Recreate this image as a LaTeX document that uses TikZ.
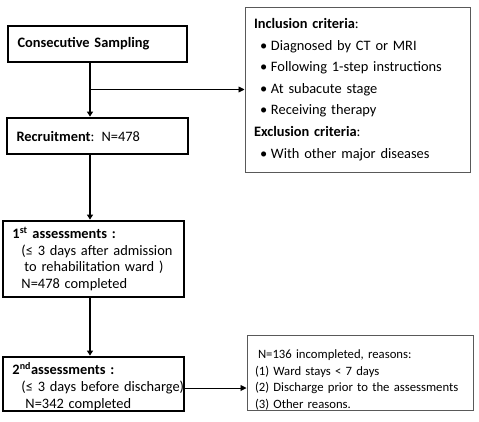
\documentclass[tikz,border=0pt]{standalone}
\usepackage{fontspec}
\setmainfont{Carlito}
\usetikzlibrary{arrows.meta}

\tikzset{
  flowbox/.style={draw, line width=2.8pt, align=left, inner xsep=9.5pt, inner ysep=0pt,
    font=\fontsize{14.4}{16.7}\selectfont},
  notebox/.style={draw=black!65, line width=1pt, align=left, inner xsep=9pt, inner ysep=0pt},
  link/.style={line width=2.8pt, -{Triangle[length=5pt,width=6pt]}},
  branch/.style={line width=0.9pt, -{Triangle[length=6pt,width=6pt]}},
}

\begin{document}
\begin{tikzpicture}[x=1pt,y=-1pt]
    \useasboundingbox (0,0) rectangle (479,421);

    % Boxes of the flow
    \node[flowbox, text width=160pt, minimum height=36pt] (sampling) at (97.5,44)
        {\textbf{Consecutive Sampling}};
    \node[flowbox, text width=162pt, minimum height=36pt] (recruit) at (97.5,136)
        {\textbf{Recruitment}: N=478};
    \node[flowbox, text width=162pt, minimum height=76pt] (first) at (93.5,259)
        {\textbf{1\textsuperscript{st} assessments :}\\
         \mbox{\hspace{9pt}(≤ 3 days after admission}\\
         \mbox{\hspace{12pt}to rehabilitation ward )}\\
         \hspace{9pt}N=478 completed};
    \node[flowbox, text width=162pt, minimum height=54pt] (second) at (93.5,384)
        {\rule{0pt}{17pt}\textbf{2\textsuperscript{nd}assessments :}\\
         \mbox{\hspace{9pt}(≤ 3 days before discharge)}\\
         \hspace{13pt}N=342 completed};

    % Side notes
    \node[notebox, text width=207pt, minimum height=165pt,
          font=\fontsize{14.4}{21.6}\selectfont] (criteria) at (357.5,89.5)
        {\textbf{Inclusion criteria}:\\
         \hspace{6pt}\makebox[11pt][l]{•}Diagnosed by CT or MRI\\
         \hspace{6pt}\makebox[11pt][l]{•}Following 1-step instructions\\
         \hspace{6pt}\makebox[11pt][l]{•}At subacute stage\\
         \hspace{6pt}\makebox[11pt][l]{•}Receiving therapy\\
         \textbf{Exclusion criteria}:\\
         \hspace{6pt}\makebox[11pt][l]{•}With other major diseases};
    \node[notebox, text width=210pt, inner xsep=8pt, minimum height=72pt,
          font=\fontsize{12.7}{16.7}\selectfont] (reasons) at (360,373)
        {\rule{0pt}{23pt}\hspace{3pt}N=136 incompleted, reasons:\\
         (1) Ward stays < 7 days\\
         \mbox{(2) Discharge prior to the assessments}\\
         (3) Other reasons.};

    % Connectors
    \coordinate (spine) at (90,0);
    \coordinate (out) at (0,388);
    \draw[link] (sampling.south -| spine) -- (recruit.north -| spine);
    \draw[branch] (spine |- criteria.west) -- (criteria.west);
    \draw[link] (recruit.south -| spine) -- (first.north -| spine);
    \draw[link] (first.south -| spine) -- (second.north -| spine);
    \draw[branch] (second.east |- out) -- (reasons.west |- out);
\end{tikzpicture}
\end{document}
